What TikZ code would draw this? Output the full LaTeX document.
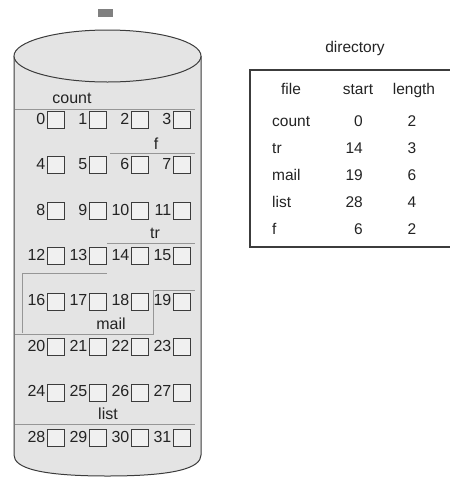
\documentclass[tikz,border=0pt]{standalone}
\usepackage{fontspec}
\setmainfont{Liberation Sans}
\usetikzlibrary{positioning}

\begin{document}
\begin{tikzpicture}[x=1pt, y=-1pt, every node/.style={inner sep=0pt}]
    % colours
    \definecolor{diskfill}{RGB}{228,228,228}   % disk body
    \definecolor{blockfill}{RGB}{240,240,240}  % single block
    \definecolor{edgegray}{RGB}{60,60,60}      % outlines
    \definecolor{seplines}{RGB}{150,150,150}   % extent borders
    \definecolor{textgray}{RGB}{35,35,35}      % text

    % styles
    \tikzstyle{block} = [rectangle, draw=edgegray, fill=blockfill, line width=0.9pt, minimum width=17pt, minimum height=17pt]
    \tikzstyle{blocknum} = [font=\fontsize{16}{18}\selectfont, text=textgray, text height=11.5pt, text depth=3pt]
    \tikzstyle{extent} = [draw=seplines, line width=0.6pt]
    \tikzstyle{dirtext} = [font=\fontsize{15.5}{18}\selectfont, text=textgray, text height=11.5pt, text depth=3pt]

    \useasboundingbox (0,0) rectangle (450,483);

    % disk
    \node[fill=gray, minimum width=15pt, minimum height=8pt] (head) at (105.5,13) {};
    \draw[edgegray, line width=1pt, fill=diskfill] (14,56) -- (14,455) .. controls (14,468) and (40,476) .. (107.5,476) .. controls (175,476) and (201,468) .. (201,455) -- (201,56);
    \draw[edgegray, line width=1pt, fill=diskfill] (107.5,56) ellipse [x radius=93.5, y radius=26];

    % extent borders
    \draw[extent] (15,109) -- (195,109);
    \draw[extent] (110,153) -- (195,153);
    \draw[extent] (107,243) -- (195,243);
    \draw[extent] (22,333) -- (22,273) -- (107,273);
    \draw[extent] (15,334) -- (153,334) -- (153,290) -- (195,290);
    \draw[extent] (15,424) -- (195,424);

    % blocks 0..31
    \foreach \n in {0,...,31} {
        \pgfmathsetmacro{\cx}{56+42*mod(\n,4)}
        \pgfmathsetmacro{\cy}{120+45.43*floor(\n/4)}
        \node[block] (blk\n) at (\cx,\cy) {};
        \node[blocknum, left=1.5pt of blk\n] (num\n) {\n};
    }

    % file names on the disk
    \node[blocknum] (lcount) at (72,99) {count};
    \node[blocknum] (lf) at (156,145) {f};
    \node[blocknum] (ltr) at (155,234) {tr};
    \node[blocknum] (lmail) at (111,325) {mail};
    \node[blocknum] (llist) at (108,415) {list};

    % directory
    \node[dirtext] (dirtitle) at (355,48) {directory};
    \draw[edgegray, line width=1.3pt] (450,70) -- (250,70) -- (250,247) -- (450,247);
    \node[dirtext] (hfile) at (291,90) {file};
    \node[dirtext] (hstart) at (358,90) {start};
    \node[dirtext] (hlength) at (414,90) {length};
    \foreach \fname/\fstart/\flen [count=\i] in {count/0/2, tr/14/3, mail/19/6, list/28/4, f/6/2} {
        \pgfmathsetmacro{\ry}{122+27*(\i-1)}
        \node[dirtext, anchor=west] (fname\i) at (272,\ry) {\fname};
        \node[dirtext, anchor=east] (fstart\i) at (363,\ry) {\fstart};
        \node[dirtext] (flen\i) at (412,\ry) {\flen};
    }
\end{tikzpicture}
\end{document}
